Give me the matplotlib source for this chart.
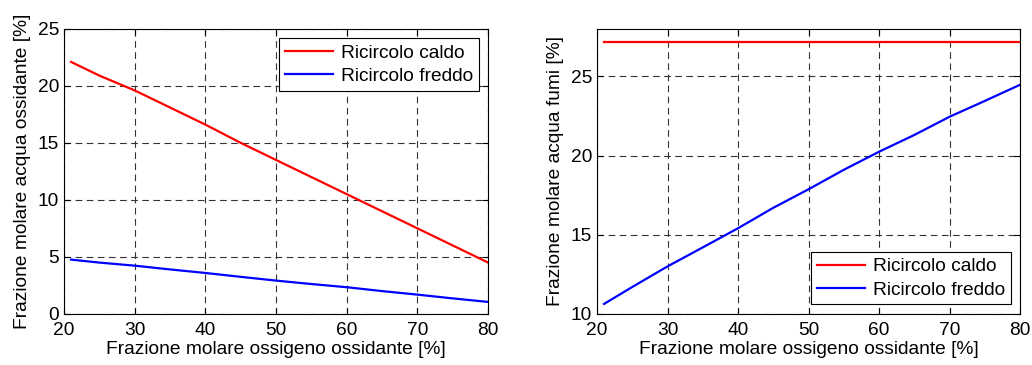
import matplotlib
matplotlib.use("Agg")
import matplotlib.pyplot as plt

plt.rcParams['font.family'] = ['Liberation Sans', 'DejaVu Sans']

# Data
x_pts = [21, 25, 30, 35, 40, 45, 50, 55, 60, 65, 70, 75, 80]
left_caldo = [22.1, 20.9, 19.6, 18.1, 16.6, 15.0, 13.5, 12.0, 10.5, 9.0, 7.5, 6.0, 4.5]
left_freddo = [4.76, 4.5, 4.23, 3.9, 3.59, 3.25, 2.92, 2.62, 2.34, 2.0, 1.69, 1.36, 1.05]
right_caldo = [27.2] * len(x_pts)
right_freddo = [10.63, 11.7, 13.0, 14.2, 15.41, 16.7, 17.87, 19.1, 20.24, 21.3, 22.45, 23.45, 24.47]

labels = ["Ricircolo caldo", "Ricircolo freddo"]
xlabel = "Frazione molare ossigeno ossidante [%]"
ylabel_left = "Frazione molare acqua ossidante [%]"
ylabel_right = "Frazione molare acqua fumi [%]"
xticks = [20, 30, 40, 50, 60, 70, 80]

fig = plt.figure(figsize=(10.32, 3.65), dpi=100)
ax1 = fig.add_axes([0.062, 0.140, 0.411, 0.781])
ax2 = fig.add_axes([0.5785, 0.140, 0.410, 0.781])

FS = 13.8

def style(ax):
    ax.grid(True, linestyle=(0, (6, 4)), color='#333333', linewidth=0.8)
    ax.tick_params(direction='in', top=True, right=True, labelsize=FS, length=4)
    ax.tick_params(axis='x', pad=6)
    for s in ax.spines.values():
        s.set_linewidth(0.8)
    ax.set_xticks(xticks)
    ax.set_xlim(20, 80)
    ax.set_xlabel(xlabel, fontsize=FS, labelpad=1)

def legend(ax, loc):
    leg = ax.legend(loc=loc, fontsize=FS, fancybox=False, edgecolor='black',
                    framealpha=1, borderaxespad=0.5, handlelength=2.5,
                    handletextpad=0.4, borderpad=0.3, labelspacing=0.3)
    leg.get_frame().set_linewidth(0.8)

ax1.plot(x_pts, left_caldo, color='#ff0000', lw=1.6, label=labels[0])
ax1.plot(x_pts, left_freddo, color='#0000ff', lw=1.6, label=labels[1])
style(ax1)
ax1.set_ylim(0, 25)
ax1.set_yticks([0, 5, 10, 15, 20, 25])
ax1.set_ylabel(ylabel_left, fontsize=FS, labelpad=5)
legend(ax1, 'upper right')

ax2.plot(x_pts, right_caldo, color='#ff0000', lw=1.6, label=labels[0])
ax2.plot(x_pts, right_freddo, color='#0000ff', lw=1.6, label=labels[1])
style(ax2)
ax2.set_ylim(10, 28)
ax2.set_yticks([10, 15, 20, 25])
ax2.set_ylabel(ylabel_right, fontsize=FS, labelpad=5)
legend(ax2, 'lower right')

fig.savefig("out.png", dpi=100, facecolor='white')
